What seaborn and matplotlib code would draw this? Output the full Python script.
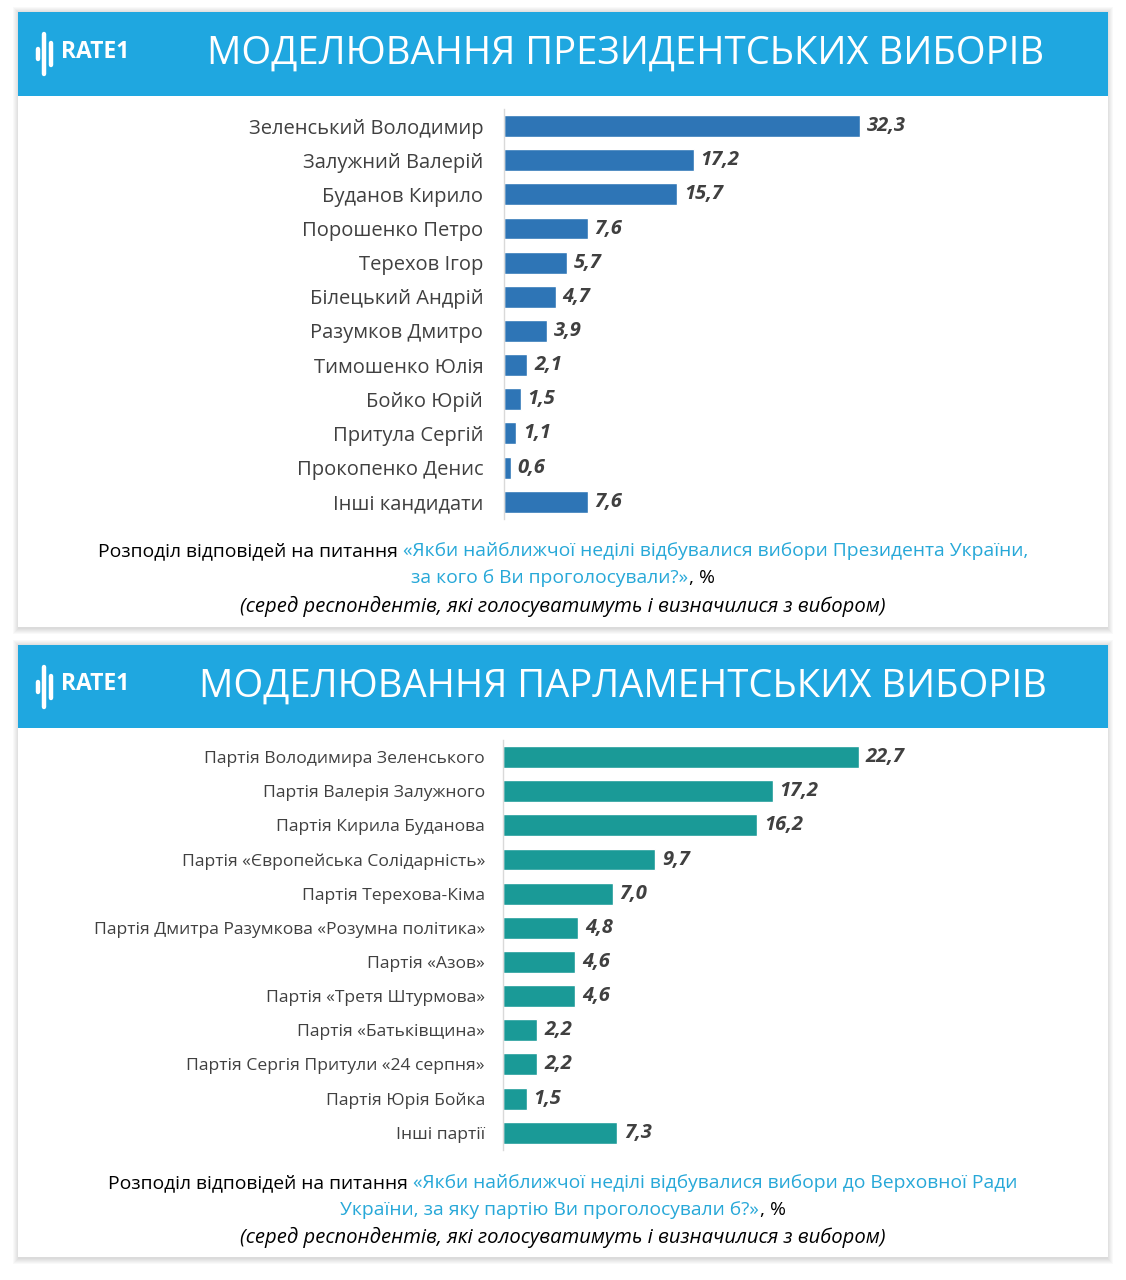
import numpy as np
import pandas as pd
import seaborn as sns
import matplotlib.pyplot as plt
from matplotlib.patches import Rectangle

# --- data ---
pres_names = ['Зеленський Володимир', 'Залужний Валерій', 'Буданов Кирило',
              'Порошенко Петро', 'Терехов Ігор', 'Білецький Андрій',
              'Разумков Дмитро', 'Тимошенко Юлія', 'Бойко Юрій',
              'Притула Сергій', 'Прокопенко Денис', 'Інші кандидати']
pres_values = [32.3, 17.2, 15.7, 7.6, 5.7, 4.7, 3.9, 2.1, 1.5, 1.1, 0.6, 7.6]

party_names = ['Партія Володимира Зеленського', 'Партія Валерія Залужного',
               'Партія Кирила Буданова', 'Партія «Європейська Солідарність»',
               'Партія Терехова-Кіма', 'Партія Дмитра Разумкова «Розумна політика»',
               'Партія «Азов»', 'Партія «Третя Штурмова»', 'Партія «Батьківщина»',
               'Партія Сергія Притули «24 серпня»', 'Партія Юрія Бойка', 'Інші партії']
party_values = [22.7, 17.2, 16.2, 9.7, 7.0, 4.8, 4.6, 4.6, 2.2, 2.2, 1.5, 7.3]

W, H = 1126, 1280
HEADER = '#1FA7E0'
CYAN = '#27A8D8'
DARK = '#404040'

sns.set_theme(style='white')
plt.rcParams['font.family'] = ['Open Sans', 'DejaVu Sans']

fig = plt.figure(figsize=(W / 100, H / 100), dpi=100)
fig.patch.set_facecolor('white')
renderer = fig.canvas.get_renderer()


def fx(x):
    return x / W


def fy(y):
    return 1 - y / H


def panel(top, header_bottom, bottom, title, title_x):
    left, right = 18, 1108
    # soft shadow
    for k in range(1, 7):
        fig.patches.append(Rectangle((fx(left - k + 1), fy(bottom + k + 1)),
                                     (right - left + 2 * k - 2) / W,
                                     (bottom - top + 2 * k) / H,
                                     transform=fig.transFigure, color='black',
                                     alpha=0.025, lw=0, zorder=0))
    fig.patches.append(Rectangle((fx(left), fy(bottom)), (right - left) / W,
                                 (bottom - top) / H, transform=fig.transFigure,
                                 color='white', lw=0, zorder=1))
    fig.patches.append(Rectangle((fx(left), fy(header_bottom)), (right - left) / W,
                                 (header_bottom - top) / H, transform=fig.transFigure,
                                 color=HEADER, lw=0, zorder=2))
    cy = (top + header_bottom) / 2
    fig.text(fx(title_x), fy(cy), title, color='white', fontsize=27.5,
             ha='center', va='center', zorder=3)
    # logo
    for x, h in [(38, 10), (44, 40), (51, 22)]:
        fig.lines.append(plt.Line2D([fx(x), fx(x)], [fy(cy - h / 2), fy(cy + h / 2)],
                                    transform=fig.transFigure, color='white',
                                    lw=3.2, solid_capstyle='round', zorder=3))
    fig.text(fx(61), fy(cy - 2), 'RATE1', color='white', fontsize=16.5,
             fontweight='bold', ha='left', va='center', zorder=3)


def rich_line(parts, y, size, style='normal', cx=563):
    # parts: (text, colour, space before)
    texts = []
    for s, c, _ in parts:
        t = fig.text(0, fy(y), s, color=c, fontsize=size, style=style,
                     ha='left', va='center', zorder=3)
        texts.append(t)
    widths = [t.get_window_extent(renderer).width for t in texts]
    probe = fig.text(0, 0, 'x x', fontsize=size)
    probe2 = fig.text(0, 0, 'xx', fontsize=size)
    space = probe.get_window_extent(renderer).width - probe2.get_window_extent(renderer).width
    probe.remove()
    probe2.remove()
    gaps = [space if p[2] else 1 for p in parts]
    gaps[0] = 0
    total = sum(widths) + sum(gaps)
    x = cx - total / 2
    for t, w, g in zip(texts, widths, gaps):
        x += g
        t.set_x(fx(x))
        x += w


def bar_chart(names, values, color, left, top, xmax, label_size, pad):
    n = len(names)
    row = 34.15
    ax = fig.add_axes([fx(left), fy(top + n * row), 500 / W, n * row / H])
    ax.set_zorder(4)
    df = pd.DataFrame({'name': names, 'value': values})
    sns.barplot(data=df, x='value', y='name', orient='h', color=color,
                saturation=1, width=0.64, ax=ax)
    ax.set_xlim(0, xmax)
    ax.set_ylim(n - 0.5, -0.5)
    ax.set_xlabel('')
    ax.set_ylabel('')
    ax.set_xticks([])
    ax.patch.set_alpha(0)
    for side in ['top', 'right', 'bottom']:
        ax.spines[side].set_visible(False)
    ax.spines['left'].set_color('#d9d9d9')
    ax.spines['left'].set_linewidth(1)
    ax.tick_params(axis='y', length=0, pad=pad, labelsize=label_size, labelcolor=DARK)
    labels = [f'{v:.1f}'.replace('.', ',') for v in values]
    ax.bar_label(ax.containers[0], labels=labels, padding=5, fontsize=14.5,
                 fontweight='bold', style='italic', color=DARK)
    return ax


# --- panel 1: presidential ---
panel(12, 96, 627, 'МОДЕЛЮВАННЯ ПРЕЗИДЕНТСЬКИХ ВИБОРІВ', 626)
bar_chart(pres_names, pres_values, '#2E75B6', 504, 109, 500 / 11.02, 14.5, 15)
rich_line([('Розподіл відповідей на питання', 'black', True),
           ('«Якби найближчої неділі відбувалися вибори Президента України,', CYAN, True)],
          551, 13.9)
rich_line([('за кого б Ви проголосували?»', CYAN, True), (', %', 'black', False)],
          578, 13.9)
rich_line([('(серед респондентів, які голосуватимуть і визначилися з вибором)', 'black', True)],
          606, 14.6, style='italic')

# --- panel 2: parliamentary ---
panel(645, 728, 1257, 'МОДЕЛЮВАННЯ ПАРЛАМЕНТСЬКИХ ВИБОРІВ', 623)
bar_chart(party_names, party_values, '#1A9A97', 503, 740, 500 / 15.68, 12.6, 13)
rich_line([('Розподіл відповідей на питання', 'black', True),
           ('«Якби найближчої неділі відбувалися вибори до Верховної Ради', CYAN, True)],
          1183, 13.9)
rich_line([('України, за яку партію Ви проголосували б?»', CYAN, True), (', %', 'black', False)],
          1210, 13.9)
rich_line([('(серед респондентів, які голосуватимуть і визначилися з вибором)', 'black', True)],
          1237, 14.6, style='italic')

fig.savefig('out.png', dpi=100, facecolor=fig.get_facecolor())
